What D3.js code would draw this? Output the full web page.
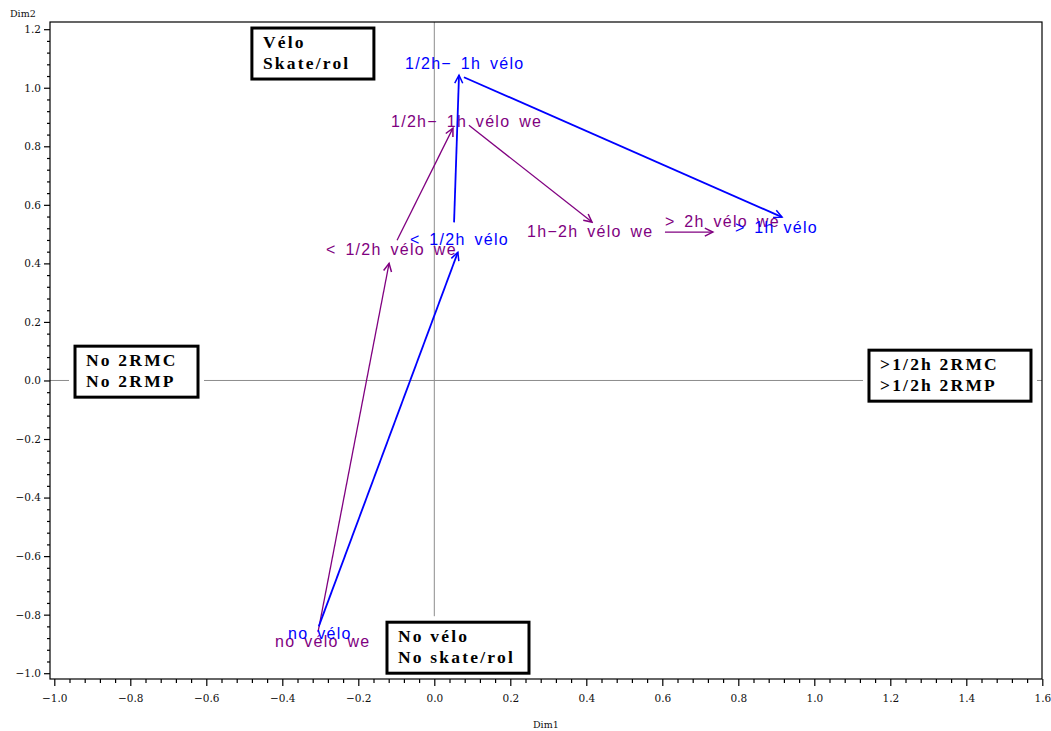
<!DOCTYPE html>
<html><head><meta charset="utf-8">
<script src="https://cdn.jsdelivr.net/npm/d3@7/dist/d3.min.js"></script>
<style>body{margin:0;background:#fff}</style>
</head><body>
<svg id="c" width="1051" height="731"></svg>
<script>
// ---------- data ----------
const xTickValues = [-1.0,-0.8,-0.6,-0.4,-0.2,0.0,0.2,0.4,0.6,0.8,1.0,1.2,1.4,1.6];
const yTickValues = [-1.0,-0.8,-0.6,-0.4,-0.2,0.0,0.2,0.4,0.6,0.8,1.0,1.2];

const veloLabels = ["no vélo", "< 1/2h vélo", "1/2h\u2212 1h vélo", "> 1h vélo"];
const veloLabelX = [-0.385, -0.064, -0.077, 0.791];
const veloLabelY = [-0.883, 0.462, 1.063, 0.503];
const veloFromX  = [-0.304, 0.052, 0.078];
const veloFromY  = [-0.840, 0.540, 1.036];
const veloToX    = [0.062, 0.065, 0.915];
const veloToY    = [0.438, 1.043, 0.558];

const weLabels = ["no vélo we", "< 1/2h vélo we", "1/2h\u2212 1h vélo we", "1h\u22122h vélo we", "> 2h vélo we"];
const weLabelX = [-0.419, -0.285, -0.114, 0.244, 0.607];
const weLabelY = [-0.911, 0.428, 0.866, 0.490, 0.524];
const weFromX  = [-0.306, -0.098, 0.091, 0.607];
const weFromY  = [-0.860, 0.479, 0.872, 0.507];
const weToX    = [-0.119, 0.049, 0.415, 0.733];
const weToY    = [0.400, 0.862, 0.541, 0.507];

const boxTexts = [["Vélo","Skate/rol"], ["No 2RMC","No 2RMP"], [">1/2h 2RMC",">1/2h 2RMP"], ["No vélo","No skate/rol"]];
const boxAnchorX = [-0.480, -0.9455, 1.1439, -0.1245];
const boxAnchorY = [1.204, 0.1172, 0.1035, -0.8258];

// ---------- layout ----------
const frame = {l: 50, t: 22, r: 1042, b: 679};
const boxW = [122, 123, 162, 142], boxH = 51;
const BLUE = "#0000ff", PURPLE = "#800080";

const svg = d3.select("#c");
const x = d3.scaleLinear().domain([-1.0, 1.6]).range([54.3, 1042.3]);
const y = d3.scaleLinear().domain([-1.0, 1.2]).range([673.2, 29.2]);

const fmt = v => {
  const s = Math.abs(v).toFixed(1);
  return (v < -1e-9 ? "\u2212" : "") + s;
};

// reference lines
svg.append("line").attr("x1", x(0)).attr("x2", x(0)).attr("y1", frame.t).attr("y2", frame.b)
  .attr("stroke", "#8c8c8c").attr("stroke-width", 1);
svg.append("line").attr("x1", frame.l).attr("x2", frame.r).attr("y1", y(0)).attr("y2", y(0))
  .attr("stroke", "#8c8c8c").attr("stroke-width", 1);

// boxes
boxTexts.forEach((lines, i) => {
  const bx = x(boxAnchorX[i]), by = y(boxAnchorY[i]);
  const g = svg.append("g");
  g.append("rect").attr("x", bx - 6).attr("y", by - 6).attr("width", boxW[i] + 12).attr("height", boxH + 12)
    .attr("fill", "#fff");
  g.append("rect").attr("x", bx).attr("y", by).attr("width", boxW[i]).attr("height", boxH)
    .attr("fill", "#fff").attr("stroke", "#000").attr("stroke-width", 3);
  lines.forEach((t, j) => {
    g.append("text").attr("x", bx + 11).attr("y", by + 20 + j * 21).text(t)
      .attr("font-family", "Liberation Serif").attr("font-weight", "bold")
      .attr("font-size", 17.5).attr("letter-spacing", 2.2).attr("fill", "#000");
  });
});

// frame (drawn after boxes so it stays intact)
svg.append("rect").attr("x", frame.l).attr("y", frame.t)
  .attr("width", frame.r - frame.l).attr("height", frame.b - frame.t)
  .attr("fill", "none").attr("stroke", "#000").attr("stroke-width", 1.2);

// ticks
const minorX = d3.range(-1.0, 1.6001, 0.04).filter(v => Math.abs(Math.round(v*5) - v*5) > 1e-6);
const minorY = d3.range(-1.0, 1.2001, 0.04).filter(v => Math.abs(Math.round(v*5) - v*5) > 1e-6);

const xAxis = svg.append("g").attr("transform", `translate(0,${frame.b})`)
  .call(d3.axisBottom(x).tickValues(xTickValues).tickSize(7).tickPadding(9).tickFormat(fmt));
xAxis.select(".domain").remove();
const xMinor = svg.append("g").attr("transform", `translate(0,${frame.b})`)
  .call(d3.axisBottom(x).tickValues(minorX).tickSize(4).tickFormat(""));
xMinor.select(".domain").remove();

const yAxis = svg.append("g").attr("transform", `translate(${frame.l},0)`)
  .call(d3.axisLeft(y).tickValues(yTickValues).tickSize(6).tickPadding(3).tickFormat(fmt));
yAxis.select(".domain").remove();
const yMinor = svg.append("g").attr("transform", `translate(${frame.l},0)`)
  .call(d3.axisLeft(y).tickValues(minorY).tickSize(3).tickFormat(""));
yMinor.select(".domain").remove();

svg.selectAll(".tick line").attr("stroke", "#000").attr("stroke-width", 1.2);
svg.selectAll(".tick text").attr("font-family", "DejaVu Serif").attr("font-size", 10.5).attr("fill", "#111");

// axis titles
svg.append("text").attr("x", 10).attr("y", 17).text("Dim2")
  .attr("font-family", "DejaVu Serif").attr("font-size", 9.5).attr("fill", "#111");
svg.append("text").attr("x", 533).attr("y", 728).text("Dim1")
  .attr("font-family", "DejaVu Serif").attr("font-size", 9.5).attr("fill", "#111");

// arrow markers
const defs = svg.append("defs");
[["blue", BLUE], ["purple", PURPLE]].forEach(([id, col]) => {
  defs.append("marker").attr("id", "arr-" + id)
    .attr("markerUnits", "userSpaceOnUse").attr("viewBox", "-10 -6 12 12")
    .attr("refX", 0).attr("refY", 0).attr("markerWidth", 12).attr("markerHeight", 12)
    .attr("orient", "auto")
    .append("path").attr("d", "M-8,-4 L0,0 L-8,4").attr("fill", "none")
    .attr("stroke", col).attr("stroke-width", 1.5);
});

function drawSeries(labels, lx, ly, fx, fy, tx, ty, col, id, sw) {
  const g = svg.append("g");
  g.selectAll("line").data(fx).join("line")
    .attr("x1", (d, i) => x(fx[i])).attr("y1", (d, i) => y(fy[i]))
    .attr("x2", (d, i) => x(tx[i])).attr("y2", (d, i) => y(ty[i]))
    .attr("stroke", col).attr("stroke-width", sw).attr("marker-end", `url(#arr-${id})`);
  g.selectAll("text").data(labels).join("text")
    .attr("x", (d, i) => x(lx[i])).attr("y", (d, i) => y(ly[i]))
    .text(d => d)
    .attr("font-family", "Liberation Sans").attr("font-size", 16)
    .attr("letter-spacing", 1.3).attr("word-spacing", 3)
    .attr("fill", col);
}
drawSeries(weLabels, weLabelX, weLabelY, weFromX, weFromY, weToX, weToY, PURPLE, "purple", 1.3);
drawSeries(veloLabels, veloLabelX, veloLabelY, veloFromX, veloFromY, veloToX, veloToY, BLUE, "blue", 1.8);
</script>
</body></html>
